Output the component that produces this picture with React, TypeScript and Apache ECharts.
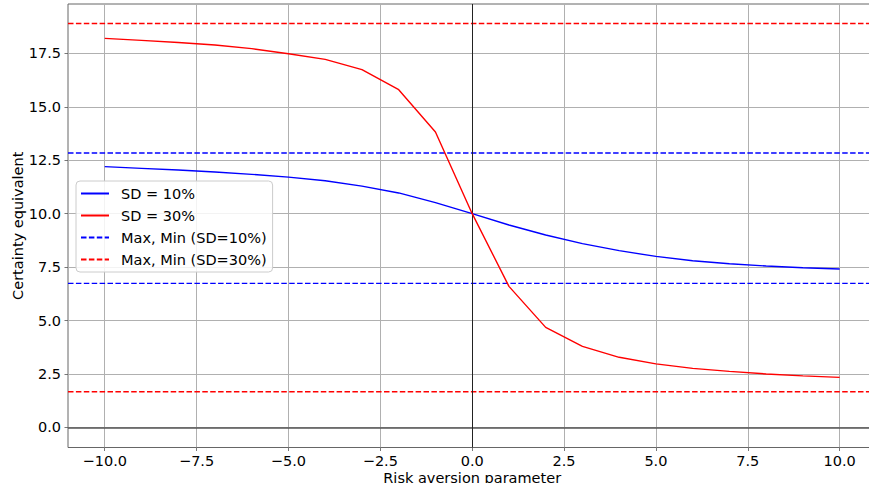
import React, { useEffect, useRef } from "react";
import * as echarts from "echarts";

const riskAversion = [-10, -9, -8, -7, -6, -5, -4, -3, -2, -1, 0, 1, 2, 3, 4, 5, 6, 7, 8, 9, 10];
const sd10 = [12.2, 12.12, 12.04, 11.95, 11.84, 11.71, 11.54, 11.29, 10.97, 10.52, 10.0, 9.47, 9.0, 8.6, 8.27, 8.0, 7.8, 7.66, 7.55, 7.47, 7.41];
const sd30 = [18.2, 18.11, 18.01, 17.89, 17.72, 17.48, 17.22, 16.74, 15.8, 13.82, 10.0, 6.6, 4.68, 3.79, 3.28, 2.97, 2.76, 2.62, 2.5, 2.41, 2.34];
const sd10MaxMin = [12.84, 6.74];
const sd30MaxMin = [18.9, 1.67];
const xLimits = [-11, 11];
const yLimits = [-0.94, 19.81];
const xTicks = [-10, -7.5, -5, -2.5, 0, 2.5, 5, 7.5, 10];
const yTicks = [0, 2.5, 5, 7.5, 10, 12.5, 15, 17.5];

const seriesNames = ["SD = 10%", "SD = 30%", "Max, Min (SD=10%)", "Max, Min (SD=30%)"];

const FONT = "DejaVu Sans";
const FS = 14.5;
const fmt = (v: number) => (v < 0 ? "\u2212" : "") + Math.abs(v).toFixed(1);

export default function App() {
  const ref = useRef<HTMLDivElement>(null);
  useEffect(() => {
    if (!ref.current) return;
    const chart = echarts.init(ref.current, undefined, { renderer: "svg" });
    const pair = (a: number[], b: number[]) => a.map((x, i) => [x, b[i]]);
    const hline = (y: number) => [[xLimits[0], y], [xLimits[1], y]];
    const dash = [5.5, 2.4];
    const option: any = {
      animation: false,
      backgroundColor: "#ffffff",
      textStyle: { fontFamily: FONT },
      grid: {
        left: 68,
        right: -7.4,
        top: 4,
        bottom: 35.5,
        outerBoundsMode: "none",
        containLabel: false,
        show: true,
        borderColor: "#666666",
        borderWidth: 1,
        backgroundColor: "transparent",
      },
      legend: {
        data: seriesNames,
        orient: "vertical",
        left: 76,
        top: 181,
        padding: [5, 6, 5, 4],
        itemWidth: 28,
        itemHeight: 14,
        itemGap: 7,
        itemStyle: { opacity: 0 },
        backgroundColor: "rgba(255,255,255,0.85)",
        borderColor: "#cccccc",
        borderWidth: 1,
        borderRadius: 4,
        textStyle: { fontFamily: FONT, fontSize: FS, color: "#000", padding: [0, 0, 0, 7] },
        selectedMode: false,
      },
      xAxis: {
        type: "value",
        min: xLimits[0],
        max: xLimits[1],
        name: "Risk aversion parameter",
        nameLocation: "middle",
        nameGap: 23,
        nameMoveOverlap: false,
        nameTextStyle: { fontFamily: FONT, fontSize: FS, color: "#000" },
        axisLine: { show: false, onZero: false },
        axisTick: { show: true, length: 3.5, inside: false, lineStyle: { color: "#555", width: 0.8 }, customValues: xTicks },
        axisLabel: { customValues: xTicks, formatter: fmt, fontFamily: FONT, fontSize: FS, color: "#000", margin: 6 },
        splitLine: { show: true, lineStyle: { color: "#b0b0b0", width: 1 } },
      },
      yAxis: {
        type: "value",
        min: yLimits[0],
        max: yLimits[1],
        name: "Certainty equivalent",
        nameLocation: "middle",
        nameGap: 43,
        nameMoveOverlap: false,
        nameTextStyle: { fontFamily: FONT, fontSize: FS, color: "#000" },
        axisLine: { show: false, onZero: false },
        axisTick: { show: true, length: 3.5, lineStyle: { color: "#555", width: 0.8 }, customValues: yTicks },
        axisLabel: { customValues: yTicks, formatter: fmt, fontFamily: FONT, fontSize: FS, color: "#000", margin: 7 },
        splitLine: { show: true, lineStyle: { color: "#b0b0b0", width: 1 } },
      },
      series: [
        {
          name: seriesNames[0],
          type: "line",
          data: pair(riskAversion, sd10),
          symbol: "none",
          lineStyle: { color: "#0000ff", width: 1.4 },
          itemStyle: { color: "#0000ff" },
          z: 5,
          markLine: {
            silent: true,
            symbol: "none",
            label: { show: false },
            data: [
              { yAxis: 0, lineStyle: { color: "#555555", width: 1.5, type: "solid" } },
              { xAxis: 0, lineStyle: { color: "#222222", width: 1, type: "solid" } },
            ],
          },
        },
        {
          name: seriesNames[1],
          type: "line",
          data: pair(riskAversion, sd30),
          symbol: "none",
          lineStyle: { color: "#ff0000", width: 1.4 },
          itemStyle: { color: "#ff0000" },
          z: 5,
        },
        ...sd10MaxMin.map((v) => ({
          name: seriesNames[2],
          type: "line",
          data: hline(v),
          symbol: "none",
          lineStyle: { color: "#0000ff", width: 1.4, type: dash },
          itemStyle: { color: "#0000ff" },
          z: 4,
        })),
        ...sd30MaxMin.map((v) => ({
          name: seriesNames[3],
          type: "line",
          data: hline(v),
          symbol: "none",
          lineStyle: { color: "#ff0000", width: 1.4, type: dash },
          itemStyle: { color: "#ff0000" },
          z: 4,
        })),
      ],
    };
    chart.setOption(option);
    return () => chart.dispose();
  }, []);
  return <div ref={ref} style={{ position: "fixed", left: 0, top: 0, width: 869, height: 483 }} />;
}
